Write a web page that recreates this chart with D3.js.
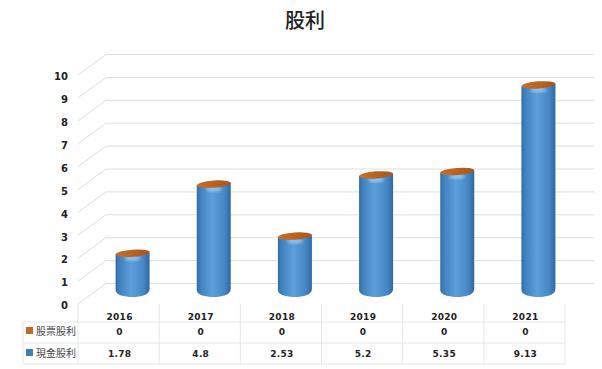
<!DOCTYPE html>
<html>
<head>
<meta charset="utf-8">
<script src="https://cdnjs.cloudflare.com/ajax/libs/d3/7.8.5/d3.min.js"></script>
<style>
  html, body { margin: 0; padding: 0; background: #fff; }
  svg { display: block; }
  text { font-family: "DejaVu Sans", sans-serif; fill: #222; }
  .cjk { font-family: "Noto Sans CJK TC", "Noto Sans", sans-serif; }
</style>
</head>
<body>
<div id="chart"></div>
<script>
var years = ['2016', '2017', '2018', '2019', '2020', '2021'];
var cashDividend = [1.78, 4.8, 2.53, 5.2, 5.35, 9.13];
var stockDividend = [0, 0, 0, 0, 0, 0];
var seriesNames = ['股票股利', '現金股利'];
var tickValues = [0, 1, 2, 3, 4, 5, 6, 7, 8, 9, 10];

var chartWidth = 602;
var chartHeight = 369;
var plotLeft = 78;
var plotRight = 565;
var depthX = 28;
var depthY = 20.5;
var backRight = 594;

var svg = d3.select('#chart')
    .append('svg')
    .attr('width', chartWidth)
    .attr('height', chartHeight);

var scaleX = d3.scaleBand()
    .domain(years)
    .range([plotLeft, plotRight]);

var scaleY = d3.scaleLinear()
    .domain([0, 10])
    .range([304, 75]);

var rowLines = [322, 343, 364];
var barRx = 17;
var barOffsetX = 14;
var barOffsetY = 10;

// Gradients
var defs = svg.append('defs');
var bodyGrad = defs.append('linearGradient')
    .attr('id', 'bodyGrad');
[[0, '#2f6ba6'], [0.1, '#3f80bd'], [0.45, '#5d9fdb'], [0.82, '#4686c4'], [1, '#2f68a3']].forEach(function(s) {
  bodyGrad.append('stop').attr('offset', s[0]).attr('stop-color', s[1]);
});
var topGrad = defs.append('linearGradient')
    .attr('id', 'topGrad');
[[0, '#c8702c'], [0.5, '#b9621f'], [1, '#a9561a']].forEach(function(s) {
  topGrad.append('stop').attr('offset', s[0]).attr('stop-color', s[1]);
});
defs.append('filter').attr('id', 'soft')
    .append('feGaussianBlur').attr('stdDeviation', 0.5);
defs.append('filter').attr('id', 'shineBlur')
    .append('feGaussianBlur').attr('stdDeviation', 1.6);

// Title
svg.append('text')
    .attr('class', 'cjk')
    .attr('x', 305)
    .attr('y', 28)
    .attr('text-anchor', 'middle')
    .attr('font-size', 20)
    .attr('font-weight', 500)
    .text('股利');

// Gridlines: back wall plus the diagonal on the side wall
var grid = svg.append('g')
    .attr('fill', 'none')
    .attr('stroke', '#dedede')
    .attr('stroke-width', 1);

grid.selectAll('path')
    .data(tickValues)
    .enter()
    .append('path')
    .attr('d', function(d) {
      var y = scaleY(d);
      return 'M' + plotLeft + ',' + y +
        'L' + (plotLeft + depthX) + ',' + (y - depthY) +
        'H' + backRight;
    });

// Y axis
var axisY = d3.axisLeft(scaleY)
    .tickValues(tickValues)
    .tickSize(0)
    .tickPadding(10);

var axisG = svg.append('g')
    .attr('transform', 'translate(' + plotLeft + ',1.5)')
    .call(axisY);
axisG.select('.domain').remove();
axisG.selectAll('text')
    .attr('font-size', 10)
    .attr('font-weight', 'bold')
    .attr('font-family', '"DejaVu Sans", sans-serif')
    .attr('fill', '#222');

// Cylinders
var bars = svg.selectAll('.bar')
    .data(cashDividend)
    .enter()
    .append('g')
    .attr('class', 'bar')
    .attr('filter', 'url(#soft)')
    .attr('transform', function(d, i) {
      return 'translate(' + (scaleX(years[i]) + scaleX.bandwidth() / 2 + barOffsetX) + ',0)';
    });

bars.append('path')
    .attr('fill', 'url(#bodyGrad)')
    .attr('d', function(d) {
      var top = scaleY(d) - barOffsetY;
      var base = scaleY(0) - barOffsetY - 3;
      return 'M' + (-barRx) + ',' + (top + 1) +
        'L' + (-barRx) + ',' + (base - 1) +
        'C' + (-barRx) + ',' + (base + 4) + ' ' + (-8) + ',' + (base + 6) + ' 0,' + (base + 6) +
        'C' + 8 + ',' + (base + 6) + ' ' + barRx + ',' + (base + 4) + ' ' + barRx + ',' + (base - 2) +
        'L' + barRx + ',' + (top - 1) + 'Z';
    });

// light patch just under the cap
bars.append('ellipse')
    .attr('cx', 0)
    .attr('cy', function(d) { return scaleY(d) - barOffsetY + 5; })
    .attr('rx', 8)
    .attr('ry', 2.5)
    .attr('fill', '#8fc4ee')
    .attr('filter', 'url(#shineBlur)');

// stock dividend is 0, so it only shows as the flat cap
bars.append('ellipse')
    .attr('cx', 0)
    .attr('cy', function(d) { return scaleY(d) - barOffsetY; })
    .attr('rx', barRx)
    .attr('ry', 3.6)
    .attr('fill', 'url(#topGrad)')
    .attr('transform', function(d) {
      return 'rotate(-4 0 ' + (scaleY(d) - barOffsetY) + ')';
    });

// Data table lines
var table = svg.append('g')
    .attr('stroke', '#e6e6e6')
    .attr('stroke-width', 1);

table.selectAll('.row')
    .data(rowLines)
    .enter()
    .append('line')
    .attr('class', 'row')
    .attr('x1', 23)
    .attr('x2', plotRight)
    .attr('y1', function(d) { return d; })
    .attr('y2', function(d) { return d; });

table.selectAll('.col')
    .data(d3.range(years.length + 1))
    .enter()
    .append('line')
    .attr('class', 'col')
    .attr('x1', function(d) { return plotLeft + d * scaleX.step(); })
    .attr('x2', function(d) { return plotLeft + d * scaleX.step(); })
    .attr('y1', 304)
    .attr('y2', 364);

table.append('line')
    .attr('x1', 23).attr('x2', 23)
    .attr('y1', 322).attr('y2', 364);

// Table text
var rows = [
  { name: seriesNames[0], values: stockDividend, y: 335, color: '#bf6a28' },
  { name: seriesNames[1], values: cashDividend, y: 357, color: '#3f7fb9' }
];

svg.selectAll('.year')
    .data(years)
    .enter()
    .append('text')
    .attr('class', 'year')
    .attr('x', function(d) { return scaleX(d) + scaleX.bandwidth() / 2 + 1; })
    .attr('y', 320)
    .attr('text-anchor', 'middle')
    .attr('font-size', 9)
    .attr('font-weight', 'bold')
    .attr('letter-spacing', 0.3)
    .text(function(d) { return d; });

rows.forEach(function(row) {
  svg.append('rect')
      .attr('x', 26)
      .attr('y', row.y - 8)
      .attr('width', 7)
      .attr('height', 7)
      .attr('fill', row.color);

  svg.append('text')
      .attr('class', 'cjk')
      .attr('x', 36)
      .attr('y', row.y)
      .attr('font-size', 10)
      .attr('fill', '#444')
      .style('fill', '#444')
      .text(row.name);

  svg.selectAll(null)
      .data(row.values)
      .enter()
      .append('text')
      .attr('x', function(d, i) { return scaleX(years[i]) + scaleX.bandwidth() / 2 + 1; })
      .attr('y', row.y)
      .attr('text-anchor', 'middle')
      .attr('font-size', 9)
      .attr('font-weight', 'bold')
      .attr('letter-spacing', 0.3)
      .text(function(d) { return d; });
});
</script>
</body>
</html>
